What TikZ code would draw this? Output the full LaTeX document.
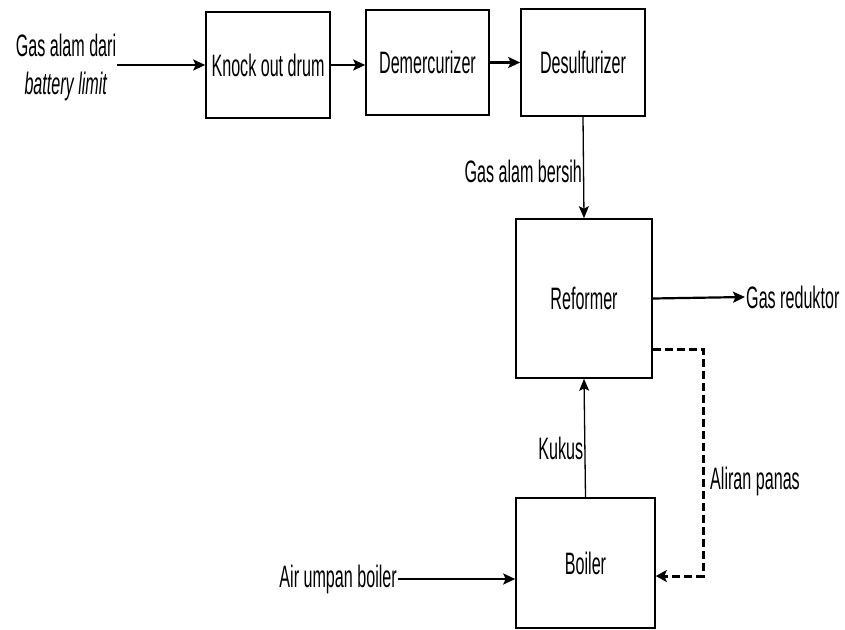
\documentclass[tikz,border=0pt]{standalone}
\usepackage{fontspec}
\setmainfont{Liberation Sans}[FakeStretch=0.52]
\usepackage{tikz}
\usetikzlibrary{arrows.meta}

\tikzset{
  unitbox/.style={draw, line width=1.6pt, minimum width=#1, inner sep=0pt},
  flowlabel/.style={inner sep=1pt, font=\fontsize{31}{38}\selectfont},
  flowarrow/.style={line width=2.2pt, -{Stealth[length=12pt,width=11pt,inset=2.5pt]}},
  thinarrow/.style={line width=1.3pt, -{Stealth[length=12pt,width=10pt,inset=2.5pt]}},
  heatline/.style={line width=3pt, dash pattern=on 8pt off 4pt, -{Stealth[length=11pt,width=12pt,inset=2.5pt]}}
}

\begin{document}
\begin{tikzpicture}[x=1pt,y=1pt,yscale=-1,xscale=1, every node/.style={font=\fontsize{31}{38}\selectfont}]
\useasboundingbox (0,0) rectangle (845,629);

%Shape: Rectangle (process units)
\node (knockout) [unitbox=124pt, minimum height=106pt] at (268,65) {Knock out drum};
\node (demerc) [unitbox=123pt, minimum height=105pt] at (427.5,62.5) {Demercurizer};
\node (desulf) [unitbox=124pt, minimum height=107pt] at (583,62.5) {Desulfurizer};
\node (reformer) [unitbox=136pt, minimum height=159pt] at (584,298.5) {Reformer};
\node (boiler) [unitbox=139pt, minimum height=130pt] at (585.5,563) {Boiler};

% Text Node
\node (feedgas) [flowlabel, align=center] at (66,67) {Gas alam dari\\\textit{battery limit}};
\node (redgas) [flowlabel, anchor=west] at (745,297) {Gas reduktor};
\node (bfw) [flowlabel, anchor=east] at (398,579) {Air umpan boiler};

%Straight Lines (gas train)
\draw [flowarrow] (feedgas.east |- knockout.west) -- (knockout.west);
\draw [flowarrow] (knockout.east) -- (knockout.east -| demerc.west);
\draw [flowarrow] (demerc.east) -- (demerc.east -| desulf.west);
\draw [thinarrow] (desulf.south) -- node [flowlabel, pos=0.54, left] {Gas alam bersih} (reformer.north);
\draw [flowarrow] (reformer.east) -- (redgas.west);

%Straight Lines (steam side)
\draw [thinarrow] (boiler.north) -- node [flowlabel, pos=0.41, left] {Kukus} (reformer.south);
\draw [flowarrow] (bfw.east) -- (bfw.east -| boiler.west);

%Dashed heat return
\coordinate (heatA) at (703,349);
\coordinate (heatB) at (703,576);
\draw [heatline] (heatA -| reformer.east) -- (heatA) -- (heatB) -- (heatB -| boiler.east);
\node (heatlbl) [flowlabel, anchor=west] at (709,481) {Aliran panas};

\end{tikzpicture}
\end{document}
